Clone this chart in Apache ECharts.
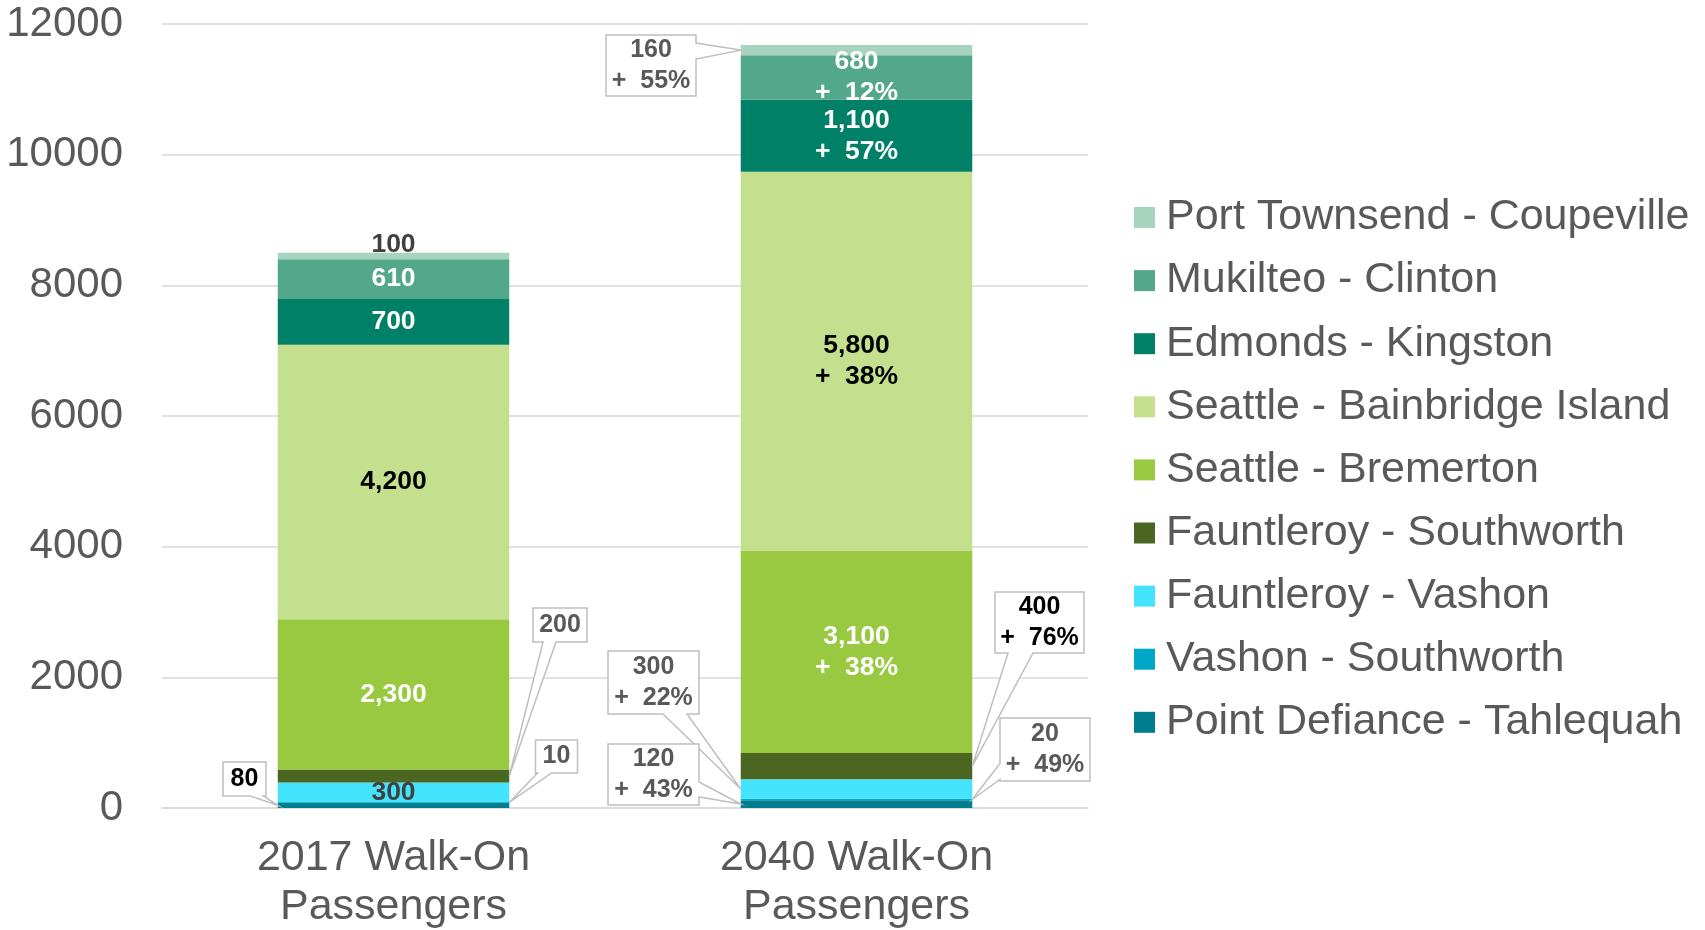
<!DOCTYPE html>
<html><head><meta charset="utf-8">
<script src="https://cdn.jsdelivr.net/npm/echarts@6/dist/echarts.min.js"></script>
<style>html,body{margin:0;padding:0;background:#fff}#c{width:1705px;height:930px}</style>
</head><body><div id="c"></div>
<script>
// ---------- DATA ----------
const categories = ['2017 Walk-On\nPassengers', '2040 Walk-On\nPassengers'];
// routes listed bottom of stack -> top of stack
const routes = ['Point Defiance - Tahlequah', 'Vashon - Southworth', 'Fauntleroy - Vashon',
  'Fauntleroy - Southworth', 'Seattle - Bremerton', 'Seattle - Bainbridge Island',
  'Edmonds - Kingston', 'Mukilteo - Clinton', 'Port Townsend - Coupeville'];
const walkOn2017 = [80, 10, 300, 200, 2300, 4200, 700, 610, 100];
const walkOn2040 = [120, 20, 300, 400, 3100, 5800, 1100, 680, 160];
const growth2040 = [43, 49, 22, 76, 38, 38, 57, 12, 55];   // % growth 2017 -> 2040
const yMin = 0, yMax = 12000, yStep = 2000;

// ---------- STYLE ----------
const FONT = '"Liberation Sans", Arial, sans-serif';
const colors = ['#007D8F', '#00A8C8', '#44E4FF', '#4B6620', '#99C941', '#C4E08E', '#008066', '#53A78A', '#A6D4BF'];
const insideColor = ['#ffffff', '#ffffff', '#404040', '#ffffff', '#ffffff', '#000000', '#ffffff', '#ffffff', '#404040'];
// label treatment per route for each year
const mode2017 = ['callout', 'callout', 'inside', 'callout', 'inside', 'inside', 'inside', 'inside', 'top'];
const mode2040 = ['callout', 'callout', 'callout', 'callout', 'inside', 'inside', 'inside', 'inside', 'callout'];
// callout box layout: offset of box centre from the bar-edge anchor, size, wedge edge
const calloutLayout = [
  {year: 0, route: 3, side: 'right', dx: 50.75, dy: -151, w: 54, h: 34, edge: 'bottom', a: -17, b: -4, color: '#595959'},
  {year: 0, route: 1, side: 'right', dx: 47.25, dy: -46, w: 42, h: 33, edge: 'bottom', a: -19, b: -5, color: '#595959'},
  {year: 0, route: 0, side: 'left', dx: -33.25, dy: -26.4, w: 43, h: 34, edge: 'bottom', a: 6, b: 19, color: '#000000'},
  {year: 1, route: 8, side: 'left', dx: -89.75, dy: 15.4, w: 90, h: 61, edge: 'right', a: -22.5, b: -6.5, color: '#595959'},
  {year: 1, route: 3, side: 'right', dx: 67.25, dy: -143.7, w: 89, h: 61, edge: 'bottom', a: -31.5, b: -6.5, color: '#000000'},
  {year: 1, route: 2, side: 'left', dx: -87.25, dy: -106.6, w: 91, h: 63, edge: 'bottom', a: 9.5, b: 33.5, color: '#595959'},
  {year: 1, route: 0, side: 'left', dx: -87.25, dy: -29.6, w: 91, h: 61, edge: 'right', a: 7.5, b: 22.5, color: '#595959'},
  {year: 1, route: 1, side: 'right', dx: 72.75, dy: -50, w: 90, h: 63, edge: 'left', a: 14, b: 30, color: '#595959'}
];

function fmt(n) { return n.toLocaleString('en-US'); }
function labelText(year, r) {
  return year === 0 ? fmt(walkOn2017[r]) : fmt(walkOn2040[r]) + '\n+  ' + growth2040[r] + '%';
}

const chart = echarts.init(document.getElementById('c'), null, {renderer: 'canvas'});

const series = routes.map((name, r) => {
  const items = [walkOn2017[r], walkOn2040[r]].map((v, year) => {
    const mode = (year === 0 ? mode2017 : mode2040)[r];
    let label;
    if (mode === 'inside') {
      label = {show: true, position: 'inside', color: insideColor[r]};
    } else if (mode === 'top') {
      label = {show: true, position: 'top', distance: -8, color: insideColor[r]};
    } else {
      label = {show: false};
    }
    return {value: v, label: label};
  });
  return {
    name: name, type: 'bar', stack: 'total', barWidth: '50%',
    itemStyle: {color: colors[r]},
    data: items,
    label: {
      fontFamily: FONT, fontSize: 26.5, fontWeight: 'bold', lineHeight: 31,
      formatter: p => labelText(p.dataIndex, r)
    },
    emphasis: {disabled: true}
  };
});

chart.setOption({
  animation: false,
  backgroundColor: '#ffffff',
  grid: {left: 162, right: 617, top: 24, bottom: 122, outerBoundsMode: 'none', containLabel: false},
  legend: {
    orient: 'vertical', left: 1134, top: 196, padding: 0, itemWidth: 21, itemHeight: 21, itemGap: 20.1,
    icon: 'rect', selectedMode: false,
    data: routes.slice().reverse(),
    textStyle: {fontFamily: FONT, fontSize: 43, lineHeight: 42, color: '#595959', padding: [0, 0, 0, 6]}
  },
  xAxis: {
    type: 'category', data: categories,
    axisLine: {lineStyle: {color: '#D9D9D9', width: 1.5}},
    axisTick: {show: false},
    axisLabel: {fontFamily: FONT, fontSize: 43, lineHeight: 49, color: '#595959', margin: 26}
  },
  yAxis: {
    type: 'value', min: yMin, max: yMax, interval: yStep,
    axisLine: {show: false}, axisTick: {show: false},
    splitLine: {lineStyle: {color: '#D9D9D9', width: 1.5}},
    axisLabel: {fontFamily: FONT, fontSize: 42, color: '#595959', margin: 39, formatter: v => String(v)}
  },
  series: series
});

// ---------- callouts computed from the chart's own scales ----------
const c0 = chart.convertToPixel({xAxisIndex: 0}, 0);
const c1 = chart.convertToPixel({xAxisIndex: 0}, 1);
const halfBar = (c1 - c0) * 0.5 / 2;
const graphics = [];
calloutLayout.forEach(c => {
  const vals = c.year === 0 ? walkOn2017 : walkOn2040;
  let base = 0;
  for (let i = 0; i < c.route; i++) base += vals[i];
  const mid = base + vals[c.route] / 2;
  const p = chart.convertToPixel({gridIndex: 0}, [c.year, mid]);
  const tx = p[0] + (c.side === 'right' ? halfBar : -halfBar);
  const ty = p[1];
  const cx = tx + c.dx, cy = ty + c.dy;
  const x0 = cx - c.w / 2, x1 = cx + c.w / 2, y0 = cy - c.h / 2, y1 = cy + c.h / 2;
  const tip = [tx, ty];
  let pts;
  if (c.edge === 'top') pts = [[x0, y0], [cx + c.a, y0], tip, [cx + c.b, y0], [x1, y0], [x1, y1], [x0, y1]];
  else if (c.edge === 'right') pts = [[x0, y0], [x1, y0], [x1, cy + c.a], tip, [x1, cy + c.b], [x1, y1], [x0, y1]];
  else if (c.edge === 'bottom') pts = [[x0, y0], [x1, y0], [x1, y1], [cx + c.b, y1], tip, [cx + c.a, y1], [x0, y1]];
  else pts = [[x0, y0], [x1, y0], [x1, y1], [x0, y1], [x0, cy + c.b], tip, [x0, cy + c.a]];
  graphics.push({
    type: 'polygon', z: 10, silent: true,
    shape: {points: pts},
    style: {fill: '#ffffff', stroke: '#BFBFBF', lineWidth: 1.5}
  });
  graphics.push({
    type: 'text', z: 11, silent: true, x: cx, y: cy,
    style: {
      text: labelText(c.year, c.route), fill: c.color,
      fontFamily: FONT, fontSize: 25, fontWeight: 'bold', lineHeight: 31,
      align: 'center', verticalAlign: 'middle', textAlign: 'center', textVerticalAlign: 'middle'
    }
  });
});
chart.setOption({graphic: graphics});
</script>
</body></html>
